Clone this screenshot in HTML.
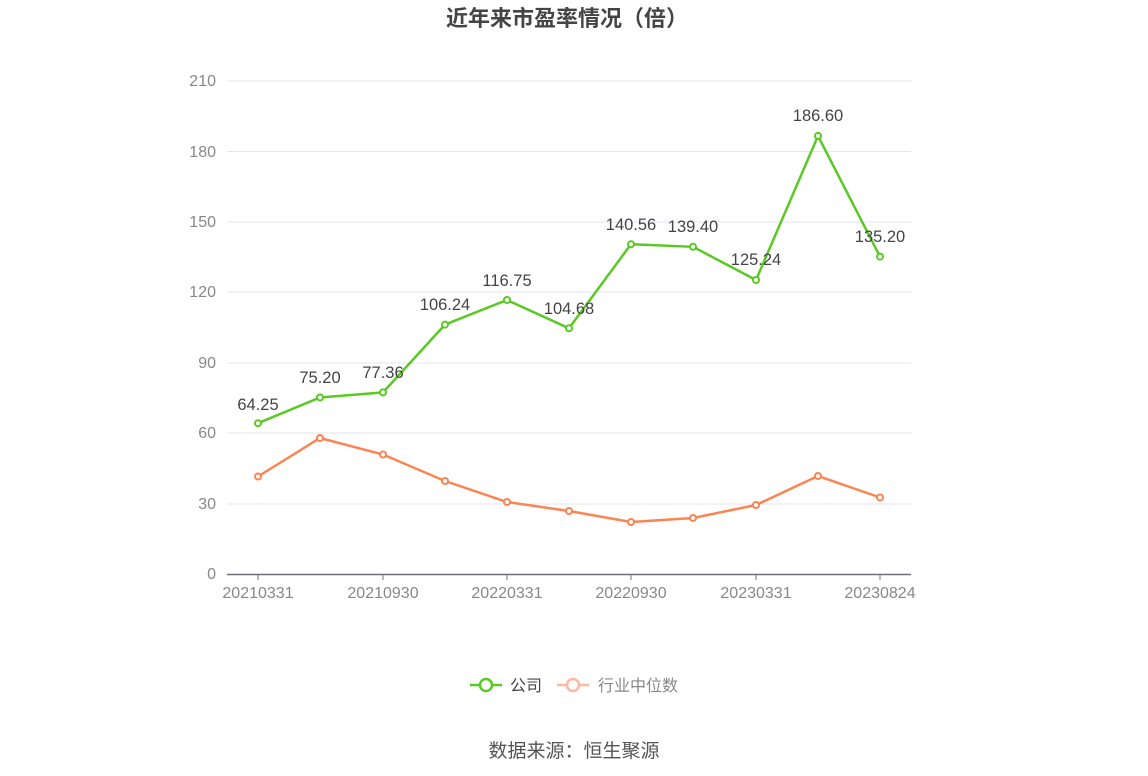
<!DOCTYPE html>
<html><head><meta charset="utf-8"><style>
body{margin:0;background:#fff;}
svg{display:block;font-family:"Liberation Sans","Noto Sans CJK SC",sans-serif;}
</style></head><body>
<svg width="1148" height="776" viewBox="0 0 1148 776" xmlns="http://www.w3.org/2000/svg">
<text x="567" y="26" text-anchor="middle" font-size="22" font-weight="bold" fill="#444">近年来市盈率情况（倍）</text>
<g stroke="#e3e6f2" stroke-width="1">
<line x1="227" x2="911" y1="81" y2="81"/><line x1="227" x2="911" y1="151.5" y2="151.5"/>
<line x1="227" x2="911" y1="222" y2="222"/><line x1="227" x2="911" y1="292" y2="292"/>
<line x1="227" x2="911" y1="363" y2="363"/><line x1="227" x2="911" y1="433" y2="433"/>
<line x1="227" x2="911" y1="504" y2="504"/>
</g>
<line x1="227" x2="911" y1="574.5" y2="574.5" stroke="#6e7079" stroke-width="1.5"/>
<g stroke="#6e7079"><line x1="258" x2="258" y1="574" y2="580"/><line x1="383" x2="383" y1="574" y2="580"/><line x1="507" x2="507" y1="574" y2="580"/><line x1="631" x2="631" y1="574" y2="580"/><line x1="756" x2="756" y1="574" y2="580"/><line x1="880" x2="880" y1="574" y2="580"/></g>
<g font-size="16" fill="#888" text-anchor="end">
<text x="216" y="86">210</text><text x="216" y="157">180</text><text x="216" y="227">150</text><text x="216" y="297">120</text><text x="216" y="368">90</text><text x="216" y="438">60</text><text x="216" y="509">30</text><text x="216" y="579">0</text>
</g>
<g font-size="16" fill="#888" text-anchor="middle">
<text x="258" y="598">20210331</text><text x="383" y="598">20210930</text><text x="507" y="598">20220331</text><text x="631" y="598">20220930</text><text x="756" y="598">20230331</text><text x="880" y="598">20230824</text>
</g>
<polyline fill="none" stroke="#fc8452" stroke-width="2.5" points="258,476.5 320,438 383,454.5 445,481 507,502 569,511 631,522 693,518 756,505 818,476 880,497.5"/>
<g fill="#fff" stroke="#fc8452" stroke-width="2">
<circle cx="258" cy="476.5" r="3"/><circle cx="320" cy="438" r="3"/><circle cx="383" cy="454.5" r="3"/><circle cx="445" cy="481" r="3"/><circle cx="507" cy="502" r="3"/><circle cx="569" cy="511" r="3"/><circle cx="631" cy="522" r="3"/><circle cx="693" cy="518" r="3"/><circle cx="756" cy="505" r="3"/><circle cx="818" cy="476" r="3"/><circle cx="880" cy="497.5" r="3"/>
</g>
<polyline fill="none" stroke="#5ac923" stroke-width="2.5" points="258,423.2 320,397.5 383,392.4 445,324.6 507,300 569,328.3 631,244.2 693,246.8 756,280 818,135.9 880,256.6"/>
<g fill="#fff" stroke="#5ac923" stroke-width="2">
<circle cx="258" cy="423.2" r="3"/><circle cx="320" cy="397.5" r="3"/><circle cx="383" cy="392.4" r="3"/><circle cx="445" cy="324.6" r="3"/><circle cx="507" cy="300" r="3"/><circle cx="569" cy="328.3" r="3"/><circle cx="631" cy="244.2" r="3"/><circle cx="693" cy="246.8" r="3"/><circle cx="756" cy="280" r="3"/><circle cx="818" cy="135.9" r="3"/><circle cx="880" cy="256.6" r="3"/>
</g>
<g font-size="16.5" fill="#444" text-anchor="middle">
<text x="258" y="410">64.25</text><text x="320" y="383">75.20</text><text x="383" y="378">77.36</text><text x="445" y="310">106.24</text><text x="507" y="286">116.75</text><text x="569" y="314">104.68</text><text x="631" y="230">140.56</text><text x="693" y="232">139.40</text><text x="756" y="265">125.24</text><text x="818" y="121">186.60</text><text x="880" y="242">135.20</text>
</g>
<line x1="470" x2="502" y1="685" y2="685" stroke="#5ac923" stroke-width="2.5"/>
<circle cx="486" cy="685" r="6" fill="#fff" stroke="#5ac923" stroke-width="2.5"/>
<text x="510" y="691" font-size="16" fill="#444">公司</text>
<line x1="557" x2="589" y1="685" y2="685" stroke="#fdb9a0" stroke-width="2.5"/>
<circle cx="573" cy="685" r="6" fill="#fff" stroke="#fdb9a0" stroke-width="2.5"/>
<text x="598" y="691" font-size="16" fill="#888">行业中位数</text>
<text x="574" y="757" text-anchor="middle" font-size="19" fill="#555">数据来源：恒生聚源</text>
</svg>
</body></html>
